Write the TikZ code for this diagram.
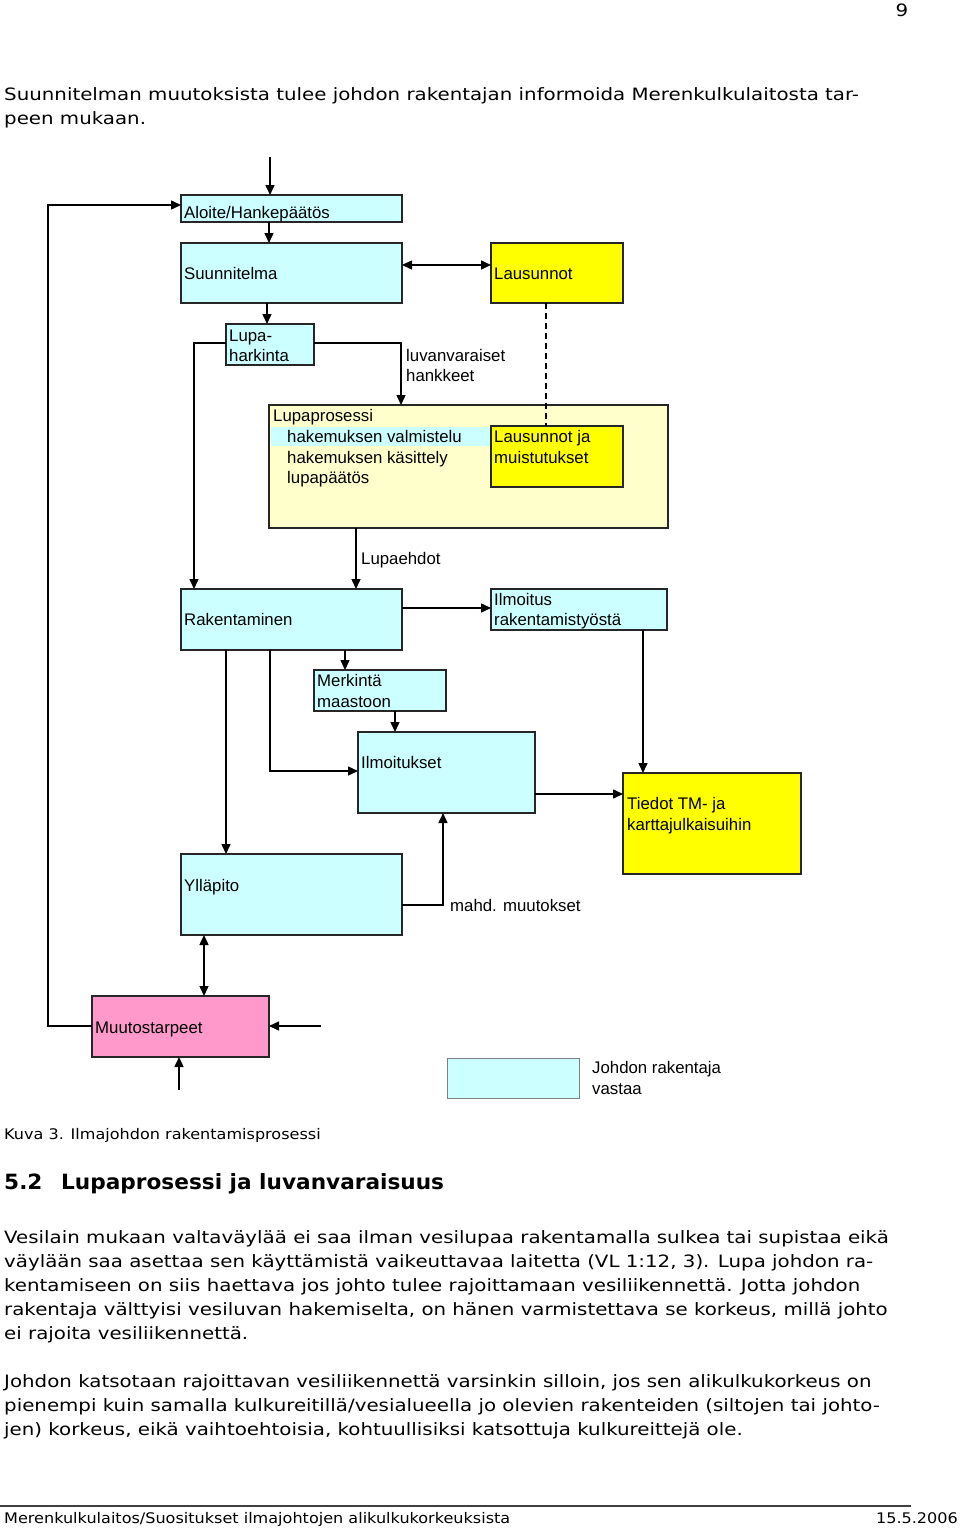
\documentclass[tikz,border=0pt]{standalone}
\usepackage{fontspec}
\setmainfont{DejaVu Sans}[FakeStretch=1.165]
\newfontfamily\capfont{DejaVu Sans}[FakeStretch=1.1]
\newfontfamily\headfont{DejaVu Sans}[FakeStretch=1.03]
\newfontfamily\arialf{Liberation Sans}
\usetikzlibrary{arrows.meta}
\definecolor{boxcyan}{HTML}{CCFFFF}
\definecolor{boxyellow}{HTML}{FFFF00}
\definecolor{lightyellow}{HTML}{FFFFCC}
\definecolor{boxpink}{HTML}{FF99CC}
\begin{document}
\begin{tikzpicture}[x=1pt,y=-1pt,
  box/.style={draw=black!85, line width=1.8pt, anchor=north west, inner sep=0pt, outer sep=0pt},
  cbox/.style={box, fill=boxcyan},
  ybox/.style={box, fill=boxyellow},
  dtxt/.style={font=\arialf\fontsize{16.8}{20.5}\selectfont, anchor=base west, inner sep=0pt, align=left},
  btxt/.style={font=\fontsize{17}{24}\selectfont, anchor=base west, inner sep=0pt},
  stxt/.style={font=\capfont\fontsize{14.6}{18}\selectfont, anchor=base west, inner sep=0pt},
  htxt/.style={font=\headfont\bfseries\fontsize{21}{24}\selectfont, anchor=base west, inner sep=0pt},
  arr/.style={line width=1.5pt, -{Triangle[length=10pt,width=9pt]}},
  darr/.style={line width=1.5pt, {Triangle[length=10pt,width=9pt]}-{Triangle[length=10pt,width=9pt]}},
  plain/.style={line width=1.5pt},
]
\path[use as bounding box, fill=white] (0,0) rectangle (960,1528);

% page number and intro text
\node[btxt, anchor=base] (pnum) at (902,17) {9};
\node[btxt] (intro1) at (4,100) {Suunnitelman muutoksista tulee johdon rakentajan informoida Merenkulkulaitosta tar-};
\node[btxt] (intro2) at (4,124) {peen mukaan.};

% boxes
\node[cbox, minimum width=221, minimum height=27] (aloite) at (181,195) {};
\node[cbox, minimum width=221, minimum height=60] (suun) at (181,243) {};
\node[ybox, minimum width=132, minimum height=60] (laus) at (491,243) {};
\node[cbox, minimum width=88, minimum height=41] (lupa) at (226,324) {};
\node[box, fill=lightyellow, minimum width=399, minimum height=123] (lproc) at (269,405) {};
\fill[boxcyan] (271,427) rectangle (490,446);
\node[ybox, minimum width=132, minimum height=61] (lm) at (491,426) {};
\node[cbox, minimum width=221, minimum height=61] (rak) at (181,589) {};
\node[cbox, minimum width=176, minimum height=41] (ilm1) at (491,589) {};
\node[cbox, minimum width=132, minimum height=41] (merk) at (314,670) {};
\node[cbox, minimum width=177, minimum height=81] (ilmk) at (358,732) {};
\node[ybox, minimum width=178, minimum height=101] (tied) at (623,773) {};
\node[cbox, minimum width=221, minimum height=81] (yll) at (181,854) {};
\node[box, fill=boxpink, minimum width=177, minimum height=61] (muut) at (92,996) {};
\node[box, draw=gray, line width=1pt, fill=boxcyan, minimum width=132, minimum height=40] (leg) at (447,1058) {};

% box texts
\node[dtxt] (t-aloite) at (184,218) {Aloite/Hankepäätös};
\node[dtxt] (t-suun) at (184,279) {Suunnitelma};
\node[dtxt] (t-laus) at (494,279) {Lausunnot};
\node[dtxt] (t-lupa1) at (229,341) {Lupa-};
\node[dtxt] (t-lupa2) at (229,361) {harkinta};
\node[dtxt] (t-luv1) at (406,361) {luvanvaraiset};
\node[dtxt] (t-luv2) at (406,381) {hankkeet};
\node[dtxt] (t-lp) at (273,421) {Lupaprosessi};
\node[dtxt] (t-lp1) at (287,442) {hakemuksen valmistelu};
\node[dtxt] (t-lp2) at (287,463) {hakemuksen käsittely};
\node[dtxt] (t-lp3) at (287,483) {lupapäätös};
\node[dtxt] (t-lm1) at (494,442) {Lausunnot ja};
\node[dtxt] (t-lm2) at (494,463) {muistutukset};
\node[dtxt] (t-ehd) at (361,564) {Lupaehdot};
\node[dtxt] (t-rak) at (184,625) {Rakentaminen};
\node[dtxt] (t-ilm1a) at (494,605) {Ilmoitus};
\node[dtxt] (t-ilm1b) at (494,625) {rakentamistyöstä};
\node[dtxt] (t-merk1) at (317,686) {Merkintä};
\node[dtxt] (t-merk2) at (317,707) {maastoon};
\node[dtxt] (t-ilmk) at (361,768) {Ilmoitukset};
\node[dtxt] (t-tied1) at (627,809) {Tiedot TM- ja};
\node[dtxt] (t-tied2) at (627,830) {karttajulkaisuihin};
\node[dtxt] (t-yll) at (184,891) {Ylläpito};
\node[dtxt] (t-mahd) at (450,911) {mahd. muutokset};
\node[dtxt] (t-muut) at (95,1033) {Muutostarpeet};
\node[dtxt] (t-leg1) at (592,1073) {Johdon rakentaja};
\node[dtxt] (t-leg2) at (592,1094) {vastaa};

% helper coordinates
\coordinate (top) at (270,157);
\coordinate (x269) at (269,0);
\coordinate (x267) at (267,0);
\coordinate (x401) at (401,0);
\coordinate (x194) at (194,0);
\coordinate (x546) at (546,0);
\coordinate (x356) at (356,0);
\coordinate (x643) at (643,0);
\coordinate (x345) at (345,0);
\coordinate (x395) at (395,0);
\coordinate (x270) at (270,0);
\coordinate (x226) at (226,0);
\coordinate (x443) at (443,0);
\coordinate (x204) at (204,0);
\coordinate (x48) at (48,0);
\coordinate (y265) at (0,265);
\coordinate (y343) at (0,343);
\coordinate (y608) at (0,608);
\coordinate (y771) at (0,771);
\coordinate (y794) at (0,794);
\coordinate (y905) at (0,905);
\coordinate (y205) at (0,205);
\coordinate (y1026) at (0,1026);
\coordinate (in1) at (321,1026);
\coordinate (in2) at (179,1090);

% connectors
\draw[arr] (top) -- (top |- aloite.north);
\draw[arr] (aloite.south -| x269) -- (suun.north -| x269);
\draw[darr] (suun.east |- y265) -- (laus.west |- y265);
\draw[arr] (suun.south -| x267) -- (lupa.north -| x267);
\draw[arr] (lupa.east |- y343) -| (lproc.north -| x401);
\draw[arr] (lupa.west |- y343) -| (rak.north -| x194);
\draw[plain, dash pattern=on 6pt off 4pt] (laus.south -| x546) -- (lm.north -| x546);
\draw[arr] (lproc.south -| x356) -- (rak.north -| x356);
\draw[arr] (rak.east |- y608) -- (ilm1.west |- y608);
\draw[arr] (ilm1.south -| x643) -- (tied.north -| x643);
\draw[arr] (rak.south -| x345) -- (merk.north -| x345);
\draw[arr] (merk.south -| x395) -- (ilmk.north -| x395);
\draw[arr] (rak.south -| x270) |- (ilmk.west |- y771);
\draw[arr] (rak.south -| x226) -- (yll.north -| x226);
\draw[arr] (ilmk.east |- y794) -- (tied.west |- y794);
\draw[arr] (yll.east |- y905) -| (ilmk.south -| x443);
\draw[darr] (yll.south -| x204) -- (muut.north -| x204);
\draw[arr] (muut.west |- y1026) -- (x48 |- y1026) -- (x48 |- y205) -- (aloite.west |- y205);
\draw[arr] (in1) -- (muut.east |- in1);
\draw[arr] (in2) -- (muut.south -| in2);

% caption and text
\node[stxt] (cap) at (4,1139) {Kuva 3. Ilmajohdon rakentamisprosessi};
\node[htxt] (h1) at (4,1189) {5.2};
\node[htxt] (h2) at (61,1189) {Lupaprosessi ja luvanvaraisuus};
\node[btxt] (p1) at (4,1243) {Vesilain mukaan valtaväylää ei saa ilman vesilupaa rakentamalla sulkea tai supistaa eikä};
\node[btxt] (p2) at (4,1267) {väylään saa asettaa sen käyttämistä vaikeuttavaa laitetta (VL 1:12, 3). Lupa johdon ra-};
\node[btxt] (p3) at (4,1291) {kentamiseen on siis haettava jos johto tulee rajoittamaan vesiliikennettä. Jotta johdon};
\node[btxt] (p4) at (4,1315) {rakentaja välttyisi vesiluvan hakemiselta, on hänen varmistettava se korkeus, millä johto};
\node[btxt] (p5) at (4,1339) {ei rajoita vesiliikennettä.};
\node[btxt] (q1) at (4,1387) {Johdon katsotaan rajoittavan vesiliikennettä varsinkin silloin, jos sen alikulkukorkeus on};
\node[btxt] (q2) at (4,1411) {pienempi kuin samalla kulkureitillä/vesialueella jo olevien rakenteiden (siltojen tai johto-};
\node[btxt] (q3) at (4,1435) {jen) korkeus, eikä vaihtoehtoisia, kohtuullisiksi katsottuja kulkureittejä ole.};

% footer
\coordinate (fl) at (0,1506);
\coordinate (fr) at (911,1506);
\draw[line width=1.2pt, black!75] (fl) -- (fr);
\node[stxt] (foot) at (4,1523) {Merenkulkulaitos/Suositukset ilmajohtojen alikulkukorkeuksista};
\node[stxt, anchor=base east] (date) at (958,1523) {15.5.2006};
\end{tikzpicture}
\end{document}
